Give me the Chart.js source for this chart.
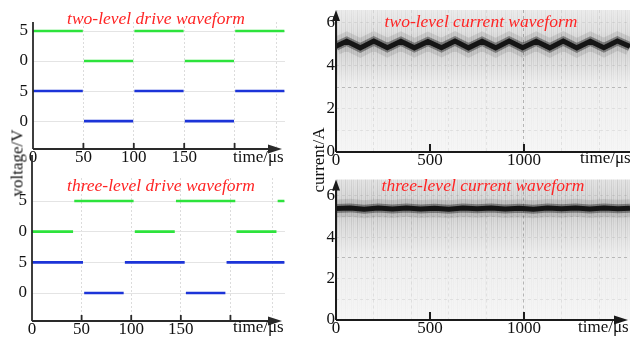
<!DOCTYPE html>
<html lang="en">
<head>
<meta charset="UTF-8">
<title>drive and current waveforms</title>
<script src="https://cdn.jsdelivr.net/npm/chart.js"></script>
<style>
  body { margin: 0; background: #fff; }
  #wrap { position: relative; width: 630px; height: 341px; overflow: hidden; font-family: "Liberation Serif", "Times New Roman", serif; }
  canvas { position: absolute; }
  .ttl { position: absolute; color: #ff2424; font-style: italic; font-size: 17.5px; line-height: 17px; white-space: nowrap; transform: translate(-50%, -50%); }
  .lbl { position: absolute; font-size: 17px; line-height: 17px; color: #111; white-space: nowrap; }
  .ylbl { position: absolute; font-size: 17px; line-height: 17px; color: #111; white-space: nowrap; transform: translate(-50%, -50%) rotate(-90deg); }
</style>
</head>
<body>
<div id="wrap">
  <canvas id="c1" width="300" height="170" style="left:0px;top:0px"></canvas>
  <canvas id="c2" width="300" height="191" style="left:0px;top:150px"></canvas>
  <canvas id="c3" width="325" height="170" style="left:305px;top:0px"></canvas>
  <canvas id="c4" width="325" height="171" style="left:305px;top:170px"></canvas>

  <div class="ttl" style="left:156px;top:18px">two-level drive waveform</div>
  <div class="ttl" style="left:161px;top:185px">three-level drive waveform</div>
  <div class="ttl" style="left:481px;top:21px">two-level current waveform</div>
  <div class="ttl" style="left:483px;top:185px">three-level current waveform</div>

  <div class="lbl" style="left:233px;top:148px">time/μs</div>
  <div class="lbl" style="left:233px;top:318px">time/μs</div>
  <div class="lbl" style="left:580px;top:149px">time/μs</div>
  <div class="lbl" style="left:578px;top:318px">time/μs</div>

  <div class="ylbl" style="left:17px;top:163px">voltage/V</div>
  <div class="ylbl" style="left:318px;top:160px">current/A</div>
</div>

<script>
// two-level drive: switching instants (us) and gate level (V) between them
const twoLevelEdges = [0, 50, 100, 150, 200, 250];
const twoLevelGreen = [5, 0, 5, 0, 5];
const twoLevelBlue = [5, 0, 5, 0, 5];

// three-level drive
const threeGreenEdges = [0, 42, 103, 144.5, 205.5, 247, 255];
const threeLevelGreen = [0, 5, 0, 5, 0, 5];
const threeBlueEdges = [0, 52, 93, 154.5, 195.5, 255];
const threeLevelBlue = [5, 0, 5, 0, 5];

// tick labels
const voltLabels = ['0', '5', '0', '5'];       // blue 0, blue 5, green 0, green 5
const driveTimeLabels = [0, 50, 100, 150];
const driveGridTimes = [0, 50, 100, 150, 200, 242];
const currentTimeLabels = [0, 500, 1000];
const currentGridTimes = [0, 200, 400, 500, 600, 800, 1000, 1200, 1400];
const currentTicks = [0, 1, 2, 3, 4, 5, 6];

// two-level current (ripple vertices)
const twoCurTime = [0, 57, 129, 201, 273, 345, 417, 489, 561, 633, 705, 777, 849, 921, 993, 1065, 1137, 1209, 1281, 1353, 1425, 1497, 1564];
const twoCurVal = [4.92, 5.15, 4.84, 5.16, 4.85, 5.15, 4.84, 5.14, 4.85, 5.16, 4.84, 5.15, 4.84, 5.16, 4.85, 5.15, 4.84, 5.16, 4.84, 5.15, 4.85, 5.16, 4.9];

// three-level current
const threeCurTime = [0, 75, 150, 225, 300, 375, 450, 525, 600, 675, 750, 825, 900, 975, 1050, 1125, 1200, 1275, 1350, 1425, 1500, 1564];
const threeCurVal = [5.38, 5.41, 5.35, 5.4, 5.36, 5.41, 5.36, 5.39, 5.35, 5.4, 5.37, 5.41, 5.36, 5.39, 5.35, 5.4, 5.37, 5.41, 5.36, 5.4, 5.37, 5.39];

const GREEN = '#2de33c';
const BLUE = '#1c34d8';
const tickFont = { family: 'Liberation Serif', size: 17, lineHeight: 1 };

// flat segments with a small break at each switching instant
function segments(edges, levels, offset, gap) {
  const pts = [];
  levels.forEach((v, i) => {
    const y = offset + v / 5;
    pts.push({ x: i === 0 ? edges[0] : edges[i] + gap, y: y });
    pts.push({ x: edges[i + 1] - gap, y: y });
    pts.push({ x: edges[i + 1], y: null });
  });
  return pts;
}

function pairs(xs, ys) {
  return xs.map((x, i) => ({ x: x, y: ys[i] }));
}

// axis lines, arrow heads and small inward tick marks
const axesArrows = {
  id: 'axesArrows',
  afterDraw(chart, args, o) {
    const { ctx, chartArea: a, scales: { x } } = chart;
    const top = o.yTop !== undefined ? o.yTop : a.top;
    ctx.save();
    ctx.strokeStyle = o.color;
    ctx.fillStyle = o.color;
    ctx.lineWidth = o.width;
    ctx.beginPath();
    ctx.moveTo(a.left, a.bottom);
    ctx.lineTo(a.left, top + (o.yArrow ? 8 : 0));
    ctx.moveTo(a.left, a.bottom);
    ctx.lineTo(o.xEnd - (o.xArrow ? 10 : 0), a.bottom);
    o.marks.forEach(v => {
      const px = x.getPixelForValue(v);
      ctx.moveTo(px, a.bottom);
      ctx.lineTo(px, a.bottom - o.markLen);
    });
    ctx.stroke();
    if (o.xArrow) {
      ctx.beginPath();
      ctx.moveTo(o.xEnd, a.bottom);
      ctx.lineTo(o.xEnd - 14, a.bottom - 4.5);
      ctx.lineTo(o.xEnd - 14, a.bottom + 4.5);
      ctx.closePath();
      ctx.fill();
    }
    if (o.yArrow) {
      ctx.beginPath();
      ctx.moveTo(a.left, top);
      ctx.lineTo(a.left - 4, top + 11);
      ctx.lineTo(a.left + 4, top + 11);
      ctx.closePath();
      ctx.fill();
    }
    ctx.restore();
  }
};

// grey scope-like background of the current plots
const scopeShade = {
  id: 'scopeShade',
  beforeDraw(chart, args, o) {
    if (!o.stops) return;
    const { ctx, chartArea: a, scales: { y } } = chart;
    const h = a.bottom - a.top;
    const g = ctx.createLinearGradient(0, a.top, 0, a.bottom);
    o.stops.forEach(s => {
      const f = Math.min(1, Math.max(0, (y.getPixelForValue(s[0]) - a.top) / h));
      g.addColorStop(f, s[1]);
    });
    ctx.save();
    ctx.fillStyle = g;
    ctx.fillRect(a.left, a.top, a.right - a.left, h);
    const sg = ctx.createLinearGradient(0, a.top, 0, a.bottom);
    o.streaks.forEach(s => {
      const f = Math.min(1, Math.max(0, (y.getPixelForValue(s[0]) - a.top) / h));
      sg.addColorStop(f, s[1]);
    });
    ctx.fillStyle = sg;
    const alphas = [0.9, 0.3, 0.6, 0.15, 0.8, 0.4, 0.25, 0.7, 0.5, 0.2];
    let k = 0;
    for (let px = a.left + 1; px < a.right; px += 2) {
      ctx.globalAlpha = alphas[k++ % alphas.length];
      ctx.fillRect(px, a.top, 1, h);
    }
    ctx.restore();
  }
};

function driveChart(id, c) {
  return new Chart(document.getElementById(id), {
    type: 'line',
    data: {
      datasets: [
        { data: segments(c.gEdges, c.green, 2, 0.6), borderColor: GREEN, borderWidth: 2.6, pointRadius: 0 },
        { data: segments(c.bEdges, c.blue, 0, 0.6), borderColor: BLUE, borderWidth: 2.6, pointRadius: 0 }
      ]
    },
    options: {
      responsive: false, animation: false, devicePixelRatio: 1,
      layout: { padding: { top: c.top, right: c.right, left: 0, bottom: 0 } },
      plugins: {
        legend: { display: false }, tooltip: { enabled: false },
        axesArrows: { color: '#2a2a2a', width: 1.8, xEnd: 282, xArrow: true, yTop: c.yTop, marks: [50, 100, 150, 200], markLen: 6 }
      },
      scales: {
        x: {
          type: 'linear', min: 0, max: c.xMax,
          afterBuildTicks: s => { s.ticks = driveGridTimes.map(v => ({ value: v })); },
          afterFit: s => { s.height = c.xh; },
          ticks: { font: tickFont, color: '#111', padding: 0, maxRotation: 0, autoSkip: false,
                   callback: v => driveTimeLabels.includes(v) ? String(v) : '' },
          grid: { drawTicks: false, color: ctx => ctx.tick && ctx.tick.value > 0 ? '#dcdcdc' : 'transparent' },
          border: { display: false, dash: [2, 2] }
        },
        y: {
          min: c.yMin, max: c.yMax,
          afterBuildTicks: s => { s.ticks = voltLabels.map((t, i) => ({ value: i })); },
          afterFit: s => { s.width = c.yw; },
          ticks: { font: tickFont, color: '#111', padding: 5, autoSkip: false,
                   callback: (v, i) => voltLabels[i] },
          grid: { drawTicks: false, color: '#e4e4e4' },
          border: { display: false }
        }
      }
    },
    plugins: [axesArrows]
  });
}

function currentChart(id, c) {
  return new Chart(document.getElementById(id), {
    type: 'line',
    data: {
      datasets: [
        { data: pairs(c.t, c.v), borderColor: 'rgba(0,0,0,0.09)', borderWidth: 18, pointRadius: 0 },
        { data: pairs(c.t, c.v), borderColor: 'rgba(0,0,0,0.35)', borderWidth: 9, pointRadius: 0 },
        { data: pairs(c.t, c.v), borderColor: '#252525', borderWidth: 5, pointRadius: 0 }
      ]
    },
    options: {
      responsive: false, animation: false, devicePixelRatio: 1,
      layout: { padding: { top: c.top, right: 0, left: 0, bottom: 0 } },
      plugins: {
        legend: { display: false }, tooltip: { enabled: false },
        scopeShade: { stops: c.stops, streaks: c.streaks },
        axesArrows: { color: '#1a1a1a', width: 2, xEnd: c.xEnd, xArrow: c.xArrow, yArrow: true, marks: [500, 1000], markLen: 8 }
      },
      scales: {
        x: {
          type: 'linear', min: 0, max: 1564,
          afterBuildTicks: s => { s.ticks = currentGridTimes.map(v => ({ value: v })); },
          afterFit: s => { s.height = c.xh; },
          ticks: { font: tickFont, color: '#111', padding: 0, maxRotation: 0, autoSkip: false,
                   callback: v => currentTimeLabels.includes(v) ? String(v) : '' },
          grid: { drawTicks: false,
                  color: ctx => {
                    const v = ctx.tick ? ctx.tick.value : 0;
                    if (v === 0 || v === 500) return 'transparent';
                    return v === 1000 ? 'rgba(0,0,0,0.25)' : 'rgba(0,0,0,0.07)';
                  } },
          border: { display: false, dash: [3, 3] }
        },
        y: {
          min: 0, max: c.yMax,
          afterBuildTicks: s => { s.ticks = currentTicks.map(v => ({ value: v })); },
          afterFit: s => { s.width = 31; },
          ticks: { font: tickFont, color: '#111', padding: 1, autoSkip: false,
                   callback: v => v % 2 === 0 ? String(v) : '' },
          grid: { drawTicks: false,
                  color: ctx => {
                    const v = ctx.tick ? ctx.tick.value : 0;
                    if (v === 0) return 'transparent';
                    return v === 3 ? 'rgba(0,0,0,0.22)' : 'rgba(0,0,0,0.07)';
                  } },
          border: { display: false, dash: [3, 3] }
        }
      }
    },
    plugins: [scopeShade, axesArrows]
  });
}

driveChart('c1', {
  gEdges: twoLevelEdges, green: twoLevelGreen, bEdges: twoLevelEdges, blue: twoLevelBlue,
  top: 22, right: 15, xh: 21, yw: 33, xMax: 250, yMin: -0.93, yMax: 3.3
});

driveChart('c2', {
  gEdges: threeGreenEdges, green: threeLevelGreen, bEdges: threeBlueEdges, blue: threeLevelBlue,
  top: 28, right: 15, xh: 20, yw: 32, xMax: 255, yMin: -0.913, yMax: 3.75, yTop: 5
});

currentChart('c3', {
  t: twoCurTime, v: twoCurVal, top: 10, xh: 18, yMax: 6.6, xEnd: 325, xArrow: false,
  stops: [[6.6, '#ececec'], [5.6, '#e2e2e2'], [5.0, '#d2d2d2'], [4.3, '#dedede'], [3.2, '#efefef'], [0, '#f6f6f6']],
  streaks: [[6.6, 'rgba(0,0,0,0.05)'], [5.2, 'rgba(0,0,0,0.12)'], [4.0, 'rgba(0,0,0,0.1)'], [3.0, 'rgba(0,0,0,0.04)'], [0, 'rgba(0,0,0,0.02)']]
});

currentChart('c4', {
  t: threeCurTime, v: threeCurVal, top: 2, xh: 21, yMax: 6.78, xEnd: 323, xArrow: true,
  stops: [[6.78, '#e4e4e4'], [5.9, '#dadada'], [5.4, '#cfcfcf'], [4.6, '#dddddd'], [3.2, '#eeeeee'], [0, '#f6f6f6']],
  streaks: [[6.78, 'rgba(0,0,0,0.1)'], [5.5, 'rgba(0,0,0,0.14)'], [4.2, 'rgba(0,0,0,0.1)'], [3.0, 'rgba(0,0,0,0.04)'], [0, 'rgba(0,0,0,0.02)']]
});
</script>
</body>
</html>
